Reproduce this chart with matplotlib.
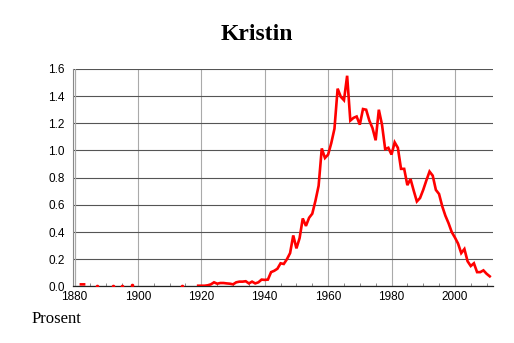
import matplotlib
matplotlib.use('Agg')
import numpy as n
import matplotlib.pyplot as plt
from matplotlib.ticker import MultipleLocator

# share of newborns named Kristin (percent), by year; missing years left out
early_years = [1882, 1883, 1887, 1892, 1895, 1898, 1914]
early_vals = [0.015, 0.015, 0.006, 0.005, 0.006, 0.01, 0.005]

years = list(range(1919, 2012))
vals = [0.005, 0.005, 0.005, 0.008, 0.015, 0.03, 0.02, 0.025, 0.025, 0.022,   # 1919-1928
        0.02, 0.015, 0.03, 0.035, 0.035, 0.038, 0.022, 0.035, 0.022, 0.03,    # 1929-1938
        0.05, 0.048, 0.05, 0.105, 0.115, 0.13, 0.17, 0.165, 0.2, 0.245,       # 1939-1948
        0.375, 0.28, 0.355, 0.5, 0.445, 0.505, 0.535, 0.63, 0.74, 1.015,      # 1949-1958
        0.945, 0.97, 1.055, 1.16, 1.455, 1.395, 1.37, 1.55, 1.22, 1.24,       # 1959-1968
        1.25, 1.19, 1.305, 1.30, 1.22, 1.165, 1.075, 1.3, 1.19, 1.01,         # 1969-1978
        1.02, 0.97, 1.06, 1.02, 0.865, 0.865, 0.745, 0.79, 0.705, 0.625,      # 1979-1988
        0.65, 0.71, 0.78, 0.845, 0.815, 0.71, 0.68, 0.59, 0.52, 0.465,        # 1989-1998
        0.40, 0.36, 0.315, 0.245, 0.275, 0.185, 0.15, 0.17, 0.105, 0.105,     # 1999-2008
        0.118, 0.093, 0.074]                                                  # 2009-2011

yticks = [0.0, 0.2, 0.4, 0.6, 0.8, 1.0, 1.2, 1.4, 1.6]
xticks = [1880, 1900, 1920, 1940, 1960, 1980, 2000]

# put the series on a full yearly grid so gaps stay gaps
all_years = n.arange(1880, 2012)
series = n.full(len(all_years), n.nan)
for y, v in zip(early_years + years, early_vals + vals):
    series[y - 1880] = v

# points with no neighbours would not show as a line
isolated = []
for i in range(len(series)):
    if n.isnan(series[i]):
        continue
    left = n.isnan(series[i-1]) if i > 0 else True
    right = n.isnan(series[i+1]) if i < len(series)-1 else True
    if left and right:
        isolated.append(i)

fig = plt.figure(figsize=[5.14, 3.43], dpi=100)
ax = fig.add_axes([0.142, 0.165, 0.817, 0.634])

ax.plot(all_years, series, color="#ff0000", lw=1.9, solid_joinstyle="miter", zorder=3)
ax.plot(all_years[isolated], series[isolated], "o", color="#ff0000", ms=2.6, mew=0, zorder=3)

ax.set_xlim(1879.5, 2012)
ax.set_ylim(0, 1.6)
ax.set_xticks(xticks)
ax.set_yticks(yticks)
ax.set_yticklabels(["%1.1f" % t for t in yticks])
ax.xaxis.set_minor_locator(MultipleLocator(5))

ax.grid(axis="y", color="#555555", lw=0.8)
ax.grid(axis="x", color="#aaaaaa", lw=0.8)
ax.axvline(1880, color="#aaaaaa", lw=0.8)
ax.set_axisbelow(True)

for s in ["top", "right"]:
    ax.spines[s].set_visible(False)
ax.spines["left"].set_color("#888888")
ax.spines["left"].set_linewidth(0.8)
ax.spines["bottom"].set_color("#222222")
ax.spines["bottom"].set_linewidth(0.9)

ax.tick_params(axis="both", which="major", length=0, labelsize=8.5, pad=3,
               labelfontfamily="Liberation Sans")
ax.tick_params(axis="x", which="minor", direction="in", length=2.5, width=0.6, color="#777777")
ax.tick_params(axis="y", pad=6)

fig.suptitle("Kristin", x=0.5, y=0.93, fontsize=17, fontweight="bold",
             family="Liberation Serif")
fig.text(0.062, 0.057, "Prosent", fontsize=12, family="Liberation Serif")

plt.savefig("out.png", dpi=100)
